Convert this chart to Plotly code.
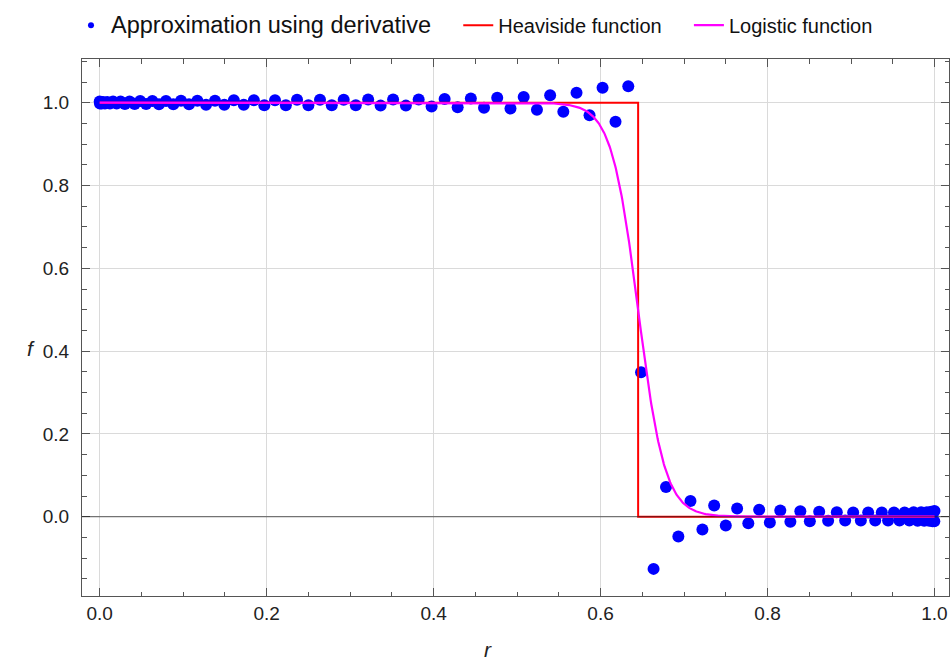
import numpy as np
import plotly.graph_objects as go

# Collocation points r_j and the derivative-based approximation f(r_j)
r_nodes = [
    0.0000, 0.0003, 0.0010, 0.0023, 0.0040, 0.0063, 0.0090, 0.0123, 0.0160, 0.0203,
    0.0250, 0.0302, 0.0358, 0.0419, 0.0485, 0.0556, 0.0631, 0.0710, 0.0794, 0.0882,
    0.0974, 0.1070, 0.1170, 0.1274, 0.1381, 0.1493, 0.1607, 0.1726, 0.1847, 0.1972,
    0.2100, 0.2230, 0.2364, 0.2500, 0.2639, 0.2780, 0.2923, 0.3068, 0.3216, 0.3365,
    0.3515, 0.3668, 0.3821, 0.3976, 0.4132, 0.4288, 0.4446, 0.4604, 0.4762, 0.4921,
    0.5079, 0.5238, 0.5396, 0.5554, 0.5712, 0.5868, 0.6024, 0.6179, 0.6332, 0.6485,
    0.6635, 0.6784, 0.6932, 0.7077, 0.7220, 0.7361, 0.7500, 0.7636, 0.7770, 0.7900,
    0.8028, 0.8153, 0.8274, 0.8393, 0.8507, 0.8619, 0.8726, 0.8830, 0.8930, 0.9026,
    0.9118, 0.9206, 0.9290, 0.9369, 0.9444, 0.9515, 0.9581, 0.9642, 0.9699, 0.9750,
    0.9798, 0.9840, 0.9877, 0.9910, 0.9937, 0.9960, 0.9977, 0.9990, 0.9998, 1.0000,
]
f_approx = [
    1.003, 0.998, 1.002, 0.998, 1.002, 0.998, 1.002, 0.998, 1.003, 0.998,
    1.003, 0.997, 1.003, 0.997, 1.004, 0.997, 1.004, 0.996, 1.004, 0.996,
    1.005, 0.996, 1.005, 0.995, 1.005, 0.995, 1.006, 0.995, 1.006, 0.994,
    1.006, 0.994, 1.007, 0.994, 1.007, 0.994, 1.007, 0.994, 1.008, 0.993,
    1.008, 0.993, 1.008, 0.991, 1.009, 0.989, 1.010, 0.988, 1.012, 0.986,
    1.014, 0.983, 1.018, 0.978, 1.024, 0.970, 1.036, 0.954, 1.040, 0.349,
    -0.126, 0.072, -0.048, 0.038, -0.031, 0.027, -0.021, 0.020, -0.016, 0.017,
    -0.014, 0.015, -0.012, 0.013, -0.011, 0.012, -0.010, 0.011, -0.009, 0.010,
    -0.009, 0.010, -0.009, 0.010, -0.009, 0.010, -0.009, 0.010, -0.009, 0.011,
    -0.010, 0.011, -0.010, 0.011, -0.010, 0.012, -0.011, 0.012, -0.011, 0.014,
]

# Step position and logistic steepness
r_step = 0.645
logistic_rate = 62.5

r_fine = np.linspace(0.0, 1.0, 1201)
f_logistic = 1.0 / (1.0 + np.exp(logistic_rate * (r_fine - r_step)))
r_heaviside = [0.0, r_step, r_step, 1.0]
f_heaviside = [1.0, 1.0, 0.0, 0.0]

FONT = "Liberation Sans"
FRAME = "#555555"

fig = go.Figure()

fig.add_trace(go.Scatter(
    x=r_nodes, y=f_approx, mode="markers",
    marker=dict(color="#0000ff", size=12, line=dict(width=0)),
    showlegend=False, hoverinfo="x+y",
))
# legend entry with a small dot
fig.add_trace(go.Scatter(
    x=[None], y=[None], mode="markers",
    marker=dict(color="#0000ff", size=6),
    name='<span style="font-size:23.5px">Approximation using derivative</span>&nbsp;&nbsp;&nbsp;&nbsp;',
))
fig.add_trace(go.Scatter(
    x=r_heaviside, y=f_heaviside, mode="lines",
    line=dict(color="#ff0000", width=2),
    name="Heaviside function&nbsp;&nbsp;&nbsp;&nbsp;",
))
fig.add_trace(go.Scatter(
    x=r_fine, y=f_logistic, mode="lines",
    line=dict(color="#ff00ff", width=2.2),
    name="Logistic function",
))

# horizontal axis line at f = 0, drawn over the curves
fig.add_shape(type="line", xref="paper", yref="y", x0=0, x1=1, y0=0, y1=0,
              line=dict(color="rgba(30,30,30,0.7)", width=1), layer="above")

axis_common = dict(
    showline=True, linecolor=FRAME, linewidth=1, mirror="ticks",
    ticks="inside", ticklen=8, tickcolor=FRAME, tickwidth=1,
    showgrid=True, gridcolor="#dadada", gridwidth=1, zeroline=False,
    tickformat=".1f", tickfont=dict(family=FONT, size=19, color="#222222"),
)

fig.update_xaxes(
    range=[-0.0212, 1.0174], tick0=0, dtick=0.2,
    minor=dict(dtick=0.05, ticks="inside", ticklen=4.5, tickcolor=FRAME, showgrid=False),
    **axis_common,
)
fig.update_yaxes(
    range=[-0.1915, 1.1056], tick0=0, dtick=0.2, ticklabelstandoff=8,
    minor=dict(dtick=0.05, ticks="inside", ticklen=4.5, tickcolor=FRAME, showgrid=False),
    **axis_common,
)

fig.add_annotation(text="<i>r</i>", xref="paper", yref="paper", x=0.4685, y=-0.100,
                   yanchor="middle", showarrow=False,
                   font=dict(family=FONT, size=21, color="#222222"))
fig.add_annotation(text="<i>f</i>", xref="paper", yref="paper", x=-0.059, y=0.46,
                   xanchor="center", yanchor="middle", showarrow=False,
                   font=dict(family=FONT, size=21, color="#222222"))

fig.update_layout(
    width=952, height=660,
    margin=dict(l=82, r=3, t=59, b=64),
    paper_bgcolor="white", plot_bgcolor="white",
    font=dict(family=FONT, size=20, color="#222222"),
    legend=dict(orientation="h", x=-0.0127, y=1.063, xanchor="left", yanchor="middle",
                font=dict(family=FONT, size=20, color="#111111"),
                bgcolor="rgba(0,0,0,0)", itemwidth=30, tracegroupgap=0),
)

fig.write_html("out.html")
